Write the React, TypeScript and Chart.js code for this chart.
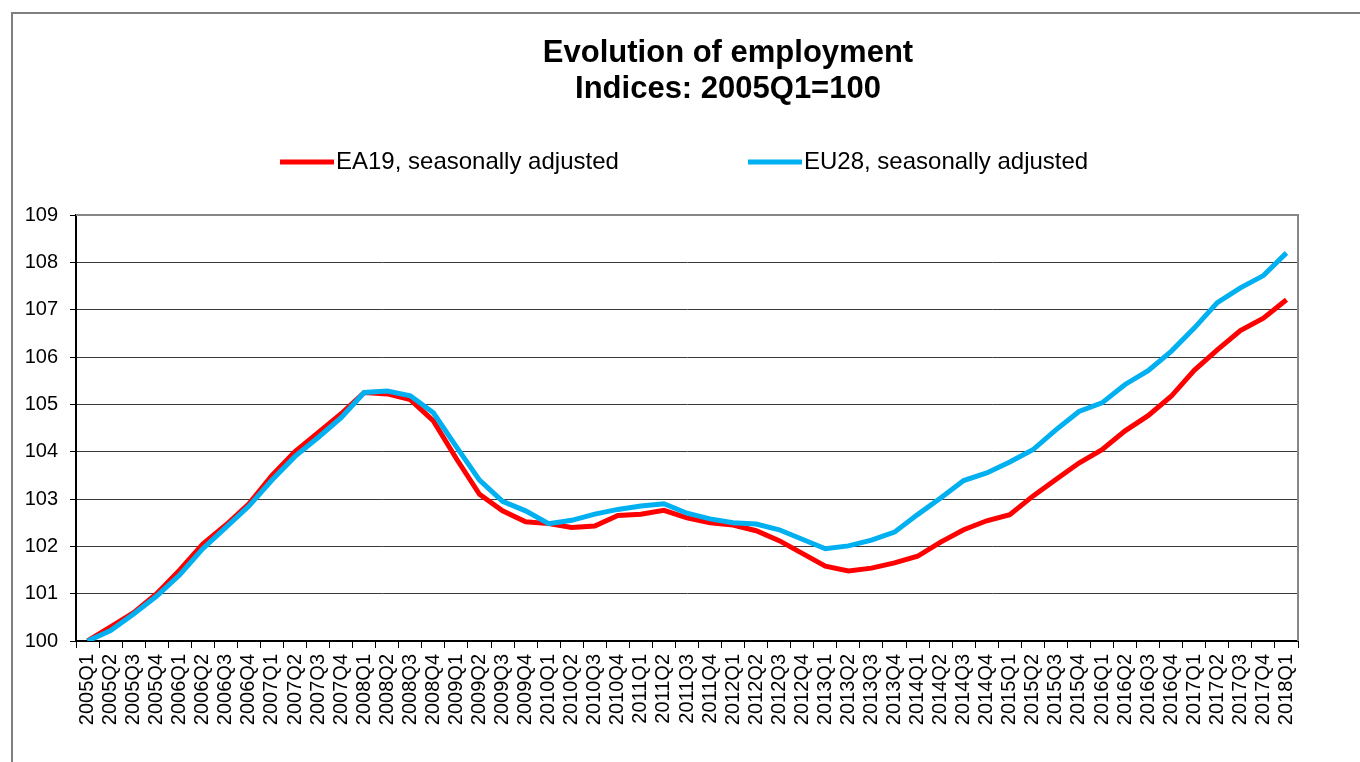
import React, { useEffect, useRef } from "react";
import { Chart, registerables } from "chart.js";

Chart.register(...registerables);

const quarters: string[] = [
  "2005Q1", "2005Q2", "2005Q3", "2005Q4",
  "2006Q1", "2006Q2", "2006Q3", "2006Q4",
  "2007Q1", "2007Q2", "2007Q3", "2007Q4",
  "2008Q1", "2008Q2", "2008Q3", "2008Q4",
  "2009Q1", "2009Q2", "2009Q3", "2009Q4",
  "2010Q1", "2010Q2", "2010Q3", "2010Q4",
  "2011Q1", "2011Q2", "2011Q3", "2011Q4",
  "2012Q1", "2012Q2", "2012Q3", "2012Q4",
  "2013Q1", "2013Q2", "2013Q3", "2013Q4",
  "2014Q1", "2014Q2", "2014Q3", "2014Q4",
  "2015Q1", "2015Q2", "2015Q3", "2015Q4",
  "2016Q1", "2016Q2", "2016Q3", "2016Q4",
  "2017Q1", "2017Q2", "2017Q3", "2017Q4",
  "2018Q1",
];

const ea19: number[] = [
  100.0, 100.3, 100.6, 101.0,
  101.5, 102.05, 102.45, 102.9,
  103.5, 104.0, 104.4, 104.8,
  105.25, 105.22, 105.1, 104.65,
  103.85, 103.1, 102.75, 102.52,
  102.48, 102.4, 102.43, 102.65,
  102.68, 102.76, 102.6, 102.5,
  102.45, 102.33, 102.12, 101.85,
  101.58, 101.48, 101.54, 101.65,
  101.79, 102.09, 102.35, 102.54,
  102.67, 103.06, 103.41, 103.76,
  104.04, 104.44, 104.76, 105.17,
  105.72, 106.15, 106.56, 106.82,
  107.21,
];

const eu28: number[] = [
  100.0, 100.22, 100.57, 100.95,
  101.4, 101.95, 102.4, 102.85,
  103.4, 103.9, 104.3, 104.72,
  105.25, 105.28, 105.18, 104.82,
  104.1, 103.4, 102.95, 102.75,
  102.48, 102.55, 102.68, 102.78,
  102.85, 102.9, 102.7, 102.58,
  102.5, 102.47, 102.35, 102.15,
  101.95, 102.01, 102.13, 102.3,
  102.67, 103.02, 103.39, 103.55,
  103.78, 104.04, 104.46, 104.85,
  105.03, 105.42, 105.71, 106.12,
  106.61, 107.15, 107.46, 107.72,
  108.2,
];

const seriesNames: string[] = ["EA19, seasonally adjusted", "EU28, seasonally adjusted"];
const titleLines: string[] = ["Evolution of employment", "Indices: 2005Q1=100"];

const RED = "#FF0000";
const BLUE = "#00B0F0";
const FONT = '"Liberation Sans", Arial, Helvetica, sans-serif';

const decorPlugin = {
  id: "decor",
  beforeDraw(chart: any) {
    const ctx = chart.ctx;
    ctx.save();
    ctx.fillStyle = "#fff";
    ctx.fillRect(0, 0, chart.width, chart.height);
    ctx.strokeStyle = "#7f7f7f";
    ctx.lineWidth = 2;
    ctx.beginPath();
    ctx.moveTo(12, chart.height);
    ctx.lineTo(12, 13);
    ctx.lineTo(chart.width, 13);
    ctx.stroke();
    ctx.restore();
  },
  afterDraw(chart: any) {
    const ctx = chart.ctx;
    const a = chart.chartArea;
    ctx.save();
    ctx.strokeStyle = "#868686";
    ctx.lineWidth = 2;
    ctx.beginPath();
    ctx.moveTo(a.left, a.top);
    ctx.lineTo(a.right, a.top);
    ctx.lineTo(a.right, a.bottom);
    ctx.stroke();

    ctx.fillStyle = "#000";
    ctx.font = "bold 31px " + FONT;
    ctx.textAlign = "center";
    ctx.textBaseline = "alphabetic";
    ctx.fillText(titleLines[0], 728, 62);
    ctx.fillText(titleLines[1], 728, 98);

    const items = [
      { x: 280, color: RED, text: seriesNames[0] },
      { x: 748, color: BLUE, text: seriesNames[1] },
    ];
    ctx.font = "24px " + FONT;
    ctx.textAlign = "left";
    ctx.textBaseline = "middle";
    items.forEach((it) => {
      ctx.strokeStyle = it.color;
      ctx.lineWidth = 5;
      ctx.beginPath();
      ctx.moveTo(it.x, 162);
      ctx.lineTo(it.x + 54, 162);
      ctx.stroke();
      ctx.fillStyle = "#000";
      ctx.fillText(it.text, it.x + 56, 162);
    });
    ctx.restore();
  },
};

export default function App() {
  const ref = useRef<HTMLCanvasElement | null>(null);
  useEffect(() => {
    if (!ref.current) return;
    const chart = new Chart(ref.current, {
      type: "line",
      data: {
        labels: quarters,
        datasets: [
          {
            label: seriesNames[0],
            data: ea19,
            borderColor: RED,
            backgroundColor: RED,
            borderWidth: 5,
            pointRadius: 0,
            tension: 0,
            order: 1,
          },
          {
            label: seriesNames[1],
            data: eu28,
            borderColor: BLUE,
            backgroundColor: BLUE,
            borderWidth: 5,
            pointRadius: 0,
            tension: 0,
            order: 0,
          },
        ],
      },
      options: {
        responsive: false,
        animation: false,
        layout: { padding: { top: 215, right: 62, left: 0, bottom: 0 } },
        plugins: {
          legend: { display: false },
          title: { display: false },
          tooltip: { enabled: false },
        },
        scales: {
          x: {
            type: "category",
            offset: true,
            afterFit: (s: any) => {
              s.height = 121;
            },
            grid: {
              offset: true,
              drawOnChartArea: false,
              drawTicks: true,
              tickLength: 7,
              tickColor: "#000",
              lineWidth: 1,
            },
            border: { display: true, color: "#000", width: 2 },
            ticks: {
              autoSkip: false,
              maxRotation: 90,
              minRotation: 90,
              padding: 6,
              color: "#000",
              font: { family: FONT, size: 20 },
            },
          },
          y: {
            min: 100,
            max: 109,
            afterFit: (s: any) => {
              s.width = 76;
            },
            grid: {
              color: "#3a3a3a",
              lineWidth: 1,
              borderDash: [2, 2],
              drawTicks: true,
              tickLength: 6,
              tickColor: "#000",
              tickBorderDash: [],
            },
            border: { display: true, color: "#000", width: 2 },
            ticks: {
              stepSize: 1,
              padding: 12,
              color: "#000",
              font: { family: FONT, size: 20 },
            },
          },
        },
      },
      plugins: [decorPlugin],
    });
    return () => chart.destroy();
  }, []);
  return (
    <div style={{ position: "absolute", left: 0, top: 0, width: 1360, height: 762, background: "#fff" }}>
      <canvas ref={ref} width={1360} height={762} style={{ display: "block" }} />
    </div>
  );
}
